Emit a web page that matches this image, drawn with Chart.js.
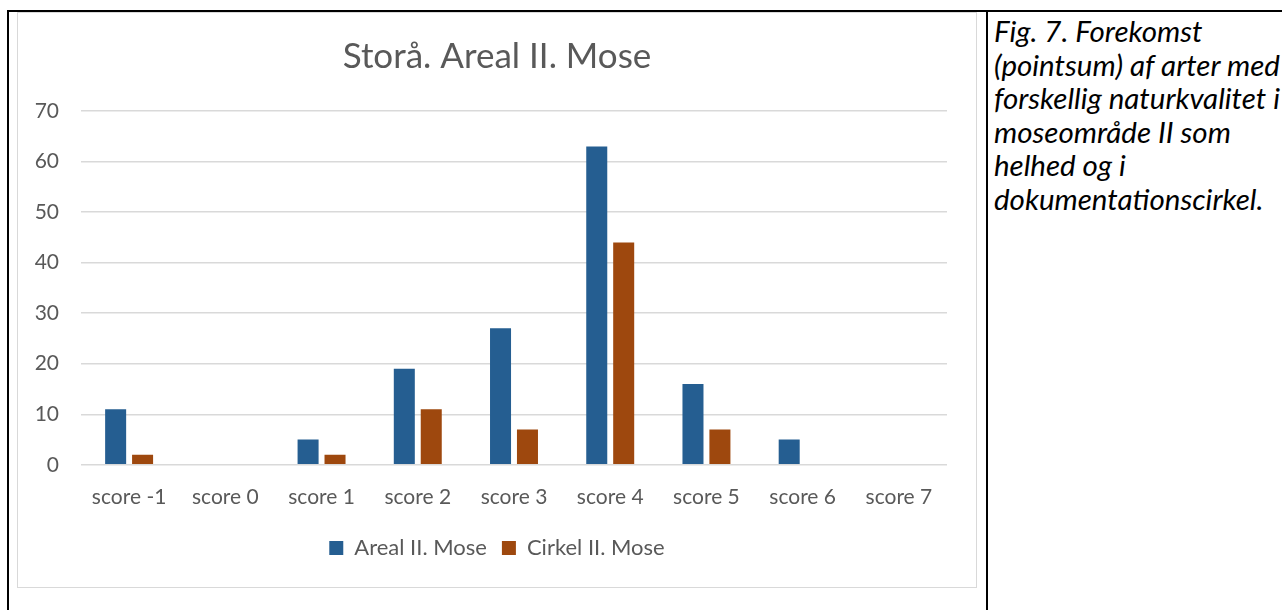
<!DOCTYPE html>
<html>
<head>
<meta charset="utf-8">
<script src="https://cdn.jsdelivr.net/npm/chart.js@4"></script>
<style>
  body { margin: 0; background: #fff; width: 1282px; height: 610px; overflow: hidden; position: relative; }
  .line { position: absolute; background: #000; }
  #frame { position: absolute; left: 17px; top: 12px; width: 958px; height: 574px; border: 1px solid #d9d9d9; }
  #caption { position: absolute; left: 994px; top: 14px; white-space: nowrap; font-family: Lato, sans-serif; font-style: italic; font-size: 29.5px; line-height: 33.5px; color: #000; }
</style>
</head>
<body>
<div class="line" style="left:7px;top:10px;width:1275px;height:2px"></div>
<div class="line" style="left:7px;top:10px;width:2px;height:600px"></div>
<div class="line" style="left:986px;top:10px;width:2px;height:600px"></div>
<div id="frame"><canvas id="scoreChart" width="958" height="574"></canvas></div>
<div id="caption">Fig. 7. Forekomst<br>(pointsum) af arter med<br>forskellig naturkvalitet i<br>moseområde II som<br>helhed og i<br>dokumentationscirkel.</div>
<script>
'use strict'

// chart data
var categories = ['score -1', 'score 0', 'score 1', 'score 2', 'score 3', 'score 4', 'score 5', 'score 6', 'score 7'];
var arealValues = [11, 0, 5, 19, 27, 63, 16, 5, 0];
var cirkelValues = [2, 0, 2, 11, 7, 44, 7, 0, 0];
var yTicks = [0, 10, 20, 30, 40, 50, 60, 70];

function renderChart() {
  var ctx = document.getElementById('scoreChart').getContext('2d');
  var grey = '#595959';
  var chart = new Chart(ctx, {
    type: 'bar',
    data: {
      labels: categories,
      datasets: [{
        label: 'Areal II. Mose',
        backgroundColor: '#255e91',
        data: arealValues
      }, {
        label: 'Cirkel II. Mose',
        backgroundColor: '#9e480e',
        data: cirkelValues
      }]
    },
    options: {
      responsive: false,
      animation: false,
      categoryPercentage: 0.56,
      barPercentage: 0.78,
      layout: { padding: { left: 0, right: 0, top: 0, bottom: 18 } },
      plugins: {
        title: {
          display: true,
          text: 'Storå. Areal II. Mose',
          color: grey,
          font: { family: 'Lato', size: 35, weight: 'normal' },
          padding: { top: 23, bottom: 33 }
        },
        legend: {
          position: 'bottom',
          labels: {
            color: grey,
            font: { family: 'Lato', size: 22 },
            boxWidth: 14,
            boxHeight: 14,
            padding: 15
          }
        },
        tooltip: { enabled: false }
      },
      scales: {
        x: {
          grid: { display: false },
          border: { display: false },
          ticks: { color: grey, font: { family: 'Lato', size: 21 }, padding: 12 }
        },
        y: {
          min: 0,
          max: 70,
          afterBuildTicks: function (scale) {
            scale.ticks = yTicks.map(function (v) { return { value: v }; });
          },
          afterFit: function (scale) { scale.width = 63; },
          grid: { color: '#d9d9d9', lineWidth: 1.5, drawTicks: false },
          border: { display: false },
          ticks: { color: grey, font: { family: 'Lato', size: 21 }, padding: 22 }
        },
        // empty right margin so the title and legend centre on the whole frame
        yRight: {
          position: 'right',
          afterFit: function (scale) { scale.width = 29; },
          grid: { display: false, drawTicks: false },
          border: { display: false },
          ticks: { display: false }
        }
      }
    }
  });
}

renderChart();
</script>
</body>
</html>
